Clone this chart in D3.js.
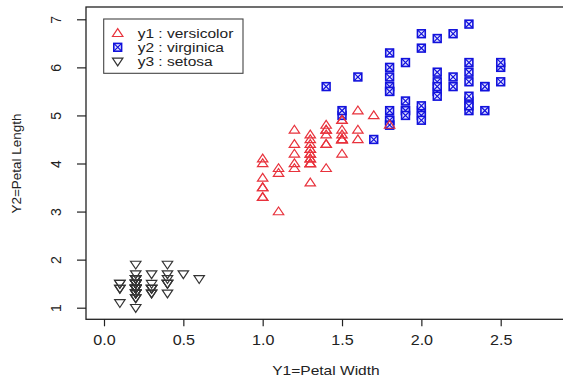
<!DOCTYPE html>
<html>
<head>
<meta charset="utf-8">
<script src="https://cdn.jsdelivr.net/npm/d3@7"></script>
<style>
  body { margin: 0; background: #fff; }
  svg { display: block; font-family: "Liberation Sans", Arial, sans-serif; }
</style>
</head>
<body>
<div id="chart"></div>
<script>
const versicolorWidth  = [1.4,1.5,1.5,1.3,1.5,1.3,1.6,1.0,1.3,1.4,1.0,1.5,1.0,1.4,1.3,1.4,1.5,1.0,1.5,1.1,1.8,1.3,1.5,1.2,1.3,1.4,1.4,1.7,1.5,1.0,1.1,1.0,1.2,1.6,1.5,1.6,1.5,1.3,1.3,1.3,1.2,1.4,1.2,1.0,1.3,1.2,1.3,1.3,1.1,1.3];
const versicolorLength = [4.7,4.5,4.9,4.0,4.6,4.5,4.7,3.3,4.6,3.9,3.5,4.2,4.0,4.7,3.6,4.4,4.5,4.1,4.5,3.9,4.8,4.0,4.9,4.7,4.3,4.4,4.8,5.0,4.5,3.5,3.8,3.7,3.9,5.1,4.5,4.5,4.7,4.4,4.1,4.0,4.4,4.6,4.0,3.3,4.2,4.2,4.2,4.3,3.0,4.1];
const virginicaWidth   = [2.5,1.9,2.1,1.8,2.2,2.1,1.7,1.8,1.8,2.5,2.0,1.9,2.1,2.0,2.4,2.3,1.8,2.2,2.3,1.5,2.3,2.0,2.0,1.8,2.1,1.8,1.8,1.8,2.1,1.6,1.9,2.0,2.2,1.5,1.4,2.3,2.4,1.8,1.8,2.1,2.4,2.3,1.9,2.3,2.5,2.3,1.9,2.0,2.3,1.8];
const virginicaLength  = [6.0,5.1,5.9,5.6,5.8,6.6,4.5,6.3,5.8,6.1,5.1,5.3,5.5,5.0,5.1,5.3,5.5,6.7,6.9,5.0,5.7,4.9,6.7,4.9,5.7,6.0,4.8,4.9,5.6,5.8,6.1,6.4,5.6,5.1,5.6,6.1,5.6,5.5,4.8,5.4,5.6,5.1,5.1,5.9,5.7,5.2,5.0,5.2,5.4,5.1];
const setosaWidth      = [0.2,0.2,0.2,0.2,0.2,0.4,0.3,0.2,0.2,0.1,0.2,0.2,0.1,0.1,0.2,0.4,0.4,0.3,0.3,0.3,0.2,0.4,0.2,0.5,0.2,0.2,0.4,0.2,0.2,0.2,0.2,0.4,0.1,0.2,0.2,0.2,0.2,0.1,0.2,0.2,0.3,0.3,0.2,0.6,0.4,0.3,0.2,0.2,0.2,0.2];
const setosaLength     = [1.4,1.4,1.3,1.5,1.4,1.7,1.4,1.5,1.4,1.5,1.5,1.6,1.4,1.1,1.2,1.5,1.3,1.4,1.7,1.5,1.7,1.5,1.0,1.7,1.9,1.6,1.6,1.5,1.4,1.6,1.6,1.5,1.5,1.4,1.5,1.2,1.3,1.4,1.3,1.5,1.3,1.3,1.3,1.6,1.9,1.4,1.6,1.4,1.5,1.4];

const xTicks = [0.0, 0.5, 1.0, 1.5, 2.0, 2.5];
const yTicks = [1, 2, 3, 4, 5, 6, 7];
const legendLabels = ["y1 : versicolor", "y2 : virginica", "y3 : setosa"];

const width = 563, height = 378;
const red = "#e8323c", blue = "#1212dc", dark = "#333";

const svg = d3.select("#chart").append("svg")
  .attr("width", width)
  .attr("height", height);

const x = d3.scaleLinear().domain([0, 2.5]).range([104, 500.7]);
const y = d3.scaleLinear().domain([1, 7]).range([307.7, 19.3]);

const box = { left: 86, top: 7, bottom: 319.3, right: 600 };

// plot frame
svg.append("rect")
  .attr("x", box.left).attr("y", box.top)
  .attr("width", box.right - box.left).attr("height", box.bottom - box.top)
  .attr("fill", "none").attr("stroke", "#222").attr("stroke-width", 1.3);

// axes, R style: ticks outside the frame
const xAxis = svg.append("g")
  .attr("transform", `translate(0,${box.bottom})`)
  .call(d3.axisBottom(x).tickValues(xTicks).tickFormat(d3.format(".1f")).tickSize(7).tickPadding(9));
const yAxis = svg.append("g")
  .attr("transform", `translate(${box.left},0)`)
  .call(d3.axisLeft(y).tickValues(yTicks).tickFormat(d3.format("d")).tickSize(9));

[xAxis, yAxis].forEach(g => {
  g.select(".domain").remove();
  g.selectAll(".tick line").attr("stroke", "#222").attr("stroke-width", 1.2);
  g.selectAll(".tick text").attr("fill", "#222").attr("font-size", 14);
});
xAxis.selectAll(".tick text").attr("data-stretch", 1.15);
yAxis.selectAll(".tick text")
  .attr("x", 0).attr("y", 0)
  .attr("text-anchor", "middle")
  .attr("transform", "translate(-30,0) rotate(-90)")
  .attr("dy", "0.35em");

// axis titles
svg.append("text")
  .attr("data-stretch", 1.15)
  .attr("x", 326).attr("y", 375)
  .attr("text-anchor", "middle").attr("font-size", 13.5).attr("fill", "#222")
  .text("Y1=Petal Width");
svg.append("text")
  .attr("transform", `translate(21,${y(4)}) rotate(-90)`)
  .attr("text-anchor", "middle").attr("font-size", 13.5).attr("fill", "#222")
  .text("Y2=Petal Length");

// marker shapes
function triUp(g, cx, cy, color) {
  g.append("path")
    .attr("d", `M${cx - 5.2},${cy + 3.2}L${cx + 5.2},${cy + 3.2}L${cx},${cy - 4.6}Z`)
    .attr("fill", "none").attr("stroke", color).attr("stroke-width", 1.2);
}
function triDown(g, cx, cy, color) {
  g.append("path")
    .attr("d", `M${cx - 5.2},${cy - 3.2}L${cx + 5.2},${cy - 3.2}L${cx},${cy + 4.6}Z`)
    .attr("fill", "none").attr("stroke", color).attr("stroke-width", 1.2);
}
function boxX(g, cx, cy, color) {
  const s = 3.9;
  g.append("rect")
    .attr("x", cx - s).attr("y", cy - s).attr("width", 2 * s).attr("height", 2 * s)
    .attr("fill", "#e4e4ff").attr("stroke", color).attr("stroke-width", 1.6);
  g.append("path")
    .attr("d", `M${cx - s},${cy - s}L${cx + s},${cy + s}M${cx + s},${cy - s}L${cx - s},${cy + s}`)
    .attr("stroke", color).attr("stroke-width", 1.2);
}

const pts = svg.append("g");
virginicaWidth.forEach((w, i) => boxX(pts, x(w), y(virginicaLength[i]), blue));
versicolorWidth.forEach((w, i) => triUp(pts, x(w), y(versicolorLength[i]), red));
setosaWidth.forEach((w, i) => triDown(pts, x(w), y(setosaLength[i]), dark));

// legend
const lg = svg.append("g");
lg.append("rect")
  .attr("x", 103.7).attr("y", 19).attr("width", 139.3).attr("height", 54.3)
  .attr("fill", "#fff").attr("stroke", "#444").attr("stroke-width", 1.1);
const markers = [triUp, boxX, triDown];
const colors = [red, blue, dark];
legendLabels.forEach((label, i) => {
  const cy = 33.3 + i * 14;
  markers[i](lg, 117.7, cy, colors[i]);
  lg.append("text")
    .attr("data-stretch", 1.24)
    .attr("x", 137.7).attr("y", cy).attr("dy", "0.35em")
    .attr("font-size", 12.5).attr("fill", "#222")
    .text(label);
});

// widen horizontal texts to match the stretched look of the source
svg.selectAll("text[data-stretch]").each(function () {
  const k = +this.getAttribute("data-stretch");
  const len = this.getComputedTextLength();
  d3.select(this).attr("textLength", len * k).attr("lengthAdjust", "spacingAndGlyphs");
});
</script>
</body>
</html>
